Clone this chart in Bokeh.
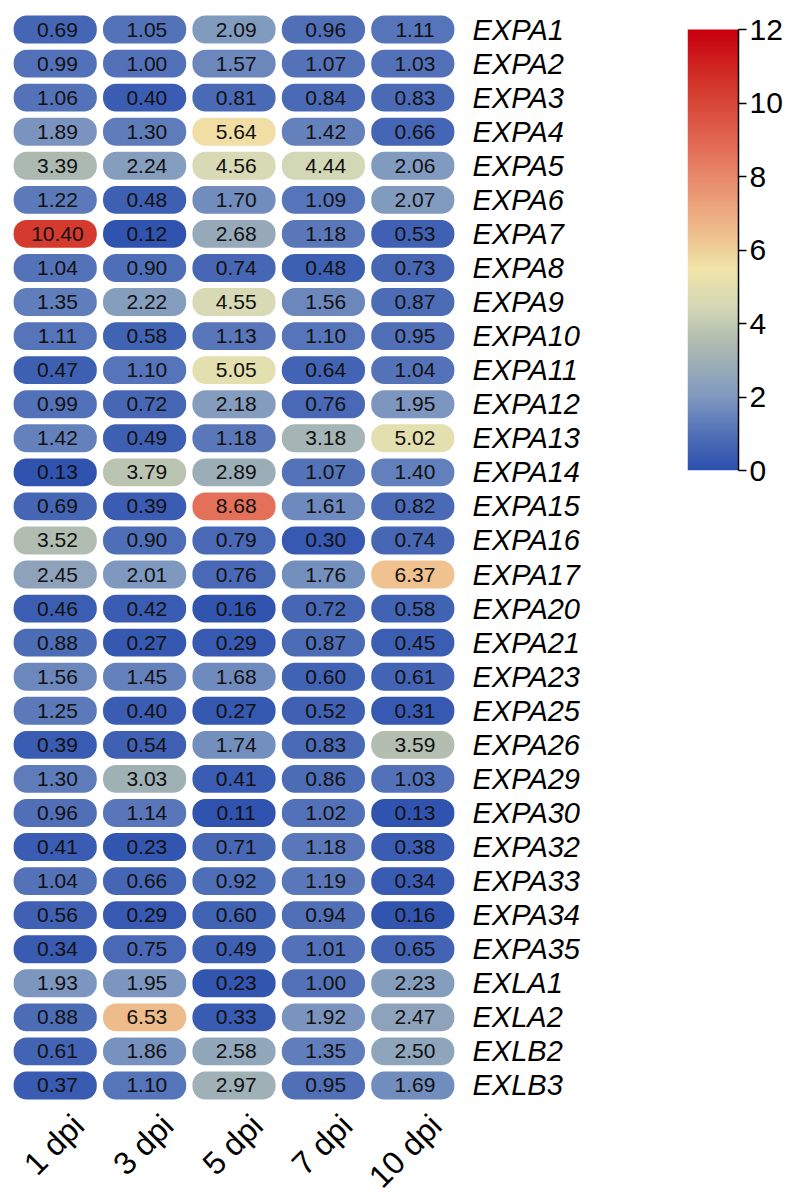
import numpy as np
from bokeh.plotting import figure
from bokeh.layouts import row
from bokeh.models import ColumnDataSource, LinearColorMapper, FixedTicker, Range1d
from bokeh.transform import transform, dodge
from bokeh.core.properties import value
from bokeh.embed import file_html
from bokeh.resources import INLINE

days = ["1 dpi", "3 dpi", "5 dpi", "7 dpi", "10 dpi"]
genes = ["EXPA1", "EXPA2", "EXPA3", "EXPA4", "EXPA5", "EXPA6", "EXPA7", "EXPA8",
         "EXPA9", "EXPA10", "EXPA11", "EXPA12", "EXPA13", "EXPA14", "EXPA15",
         "EXPA16", "EXPA17", "EXPA20", "EXPA21", "EXPA23", "EXPA25", "EXPA26",
         "EXPA29", "EXPA30", "EXPA32", "EXPA33", "EXPA34", "EXPA35", "EXLA1",
         "EXLA2", "EXLB2", "EXLB3"]

dpi1 = [0.69, 0.99, 1.06, 1.89, 3.39, 1.22, 10.40, 1.04, 1.35, 1.11, 0.47, 0.99,
        1.42, 0.13, 0.69, 3.52, 2.45, 0.46, 0.88, 1.56, 1.25, 0.39, 1.30, 0.96,
        0.41, 1.04, 0.56, 0.34, 1.93, 0.88, 0.61, 0.37]
dpi3 = [1.05, 1.00, 0.40, 1.30, 2.24, 0.48, 0.12, 0.90, 2.22, 0.58, 1.10, 0.72,
        0.49, 3.79, 0.39, 0.90, 2.01, 0.42, 0.27, 1.45, 0.40, 0.54, 3.03, 1.14,
        0.23, 0.66, 0.29, 0.75, 1.95, 6.53, 1.86, 1.10]
dpi5 = [2.09, 1.57, 0.81, 5.64, 4.56, 1.70, 2.68, 0.74, 4.55, 1.13, 5.05, 2.18,
        1.18, 2.89, 8.68, 0.79, 0.76, 0.16, 0.29, 1.68, 0.27, 1.74, 0.41, 0.11,
        0.71, 0.92, 0.60, 0.49, 0.23, 0.33, 2.58, 2.97]
dpi7 = [0.96, 1.07, 0.84, 1.42, 4.44, 1.09, 1.18, 0.48, 1.56, 1.10, 0.64, 0.76,
        3.18, 1.07, 1.61, 0.30, 1.76, 0.72, 0.87, 0.60, 0.52, 0.83, 0.86, 1.02,
        1.18, 1.19, 0.94, 1.01, 1.00, 1.92, 1.35, 0.95]
dpi10 = [1.11, 1.03, 0.83, 0.66, 2.06, 2.07, 0.53, 0.73, 0.87, 0.95, 1.04, 1.95,
         5.02, 1.40, 0.82, 0.74, 6.37, 0.58, 0.45, 0.61, 0.31, 3.59, 1.03, 0.13,
         0.38, 0.34, 0.16, 0.65, 2.23, 2.47, 2.50, 1.69]

colorbar_ticks = [0, 2, 4, 6, 8, 10, 12]

# colour map (muted reversed RdYlBu look)
stop_vals = [0, 1, 2, 3.5, 4.5, 5.5, 6.4, 8.7, 10.4, 12]
stop_cols = [(44, 80, 174), (82, 113, 184), (127, 153, 192), (176, 188, 176),
             (213, 217, 181), (241, 228, 168), (239, 192, 142), (228, 112, 90),
             (212, 58, 45), (200, 0, 15)]
grid = np.linspace(0, 12, 256)
arr = np.array(stop_cols, dtype=float)
palette = []
for g in grid:
    r = np.interp(g, stop_vals, arr[:, 0])
    gg = np.interp(g, stop_vals, arr[:, 1])
    b = np.interp(g, stop_vals, arr[:, 2])
    palette.append("#%02x%02x%02x" % (int(round(r)), int(round(gg)), int(round(b))))
mapper = LinearColorMapper(palette=palette, low=0, high=12)

n_rows = len(genes)
cols = [dpi1, dpi3, dpi5, dpi7, dpi10]
xs, ys, vs, labels = [], [], [], []
for i, col in enumerate(cols):
    for k, v in enumerate(col):
        xs.append(i)
        ys.append(n_rows - 1 - k)
        vs.append(v)
        labels.append("%.2f" % v)
src = ColumnDataSource(dict(x=xs, y=ys, v=vs, label=labels))

TOP = 12
GRID_H = 1090                      # pixel height of the 32 rows
LABEL_PX = 92                      # room under the grid for the rotated day labels
row_px = GRID_H / n_rows
extra_rows = LABEL_PX / row_px

p = figure(title=None, x_range=Range1d(-0.5, len(days) - 0.5),
           y_range=Range1d(-0.5 - extra_rows, n_rows - 0.5),
           frame_width=447, frame_height=GRID_H + LABEL_PX,
           min_border_left=10, min_border_top=TOP, min_border_right=150, min_border_bottom=0,
           x_axis_location=None, y_axis_location="right",
           output_backend="svg", toolbar_location=None)
p.quad(left=dodge("x", -0.465), right=dodge("x", 0.465),
       bottom=dodge("y", -0.41), top=dodge("y", 0.41),
       source=src, fill_color=transform("v", mapper), line_color=None, border_radius=13)
p.text(x=dodge("x", 0.025), y="y", text="label", source=src,
       text_align="center", text_baseline="middle", text_font_size="21px",
       text_font=value("Liberation Sans"), text_color="#111111")

# rotated day labels under each column
day_src = ColumnDataSource(dict(x=list(range(len(days))), day=days))
p.text(x=dodge("x", 0.26), y=-0.5 - 0.52, text="day", source=day_src, angle=np.pi / 4,
       text_align="right", text_baseline="middle", text_font_size="32px",
       text_font=value("Liberation Sans"), text_color="black")

p.outline_line_color = None
p.grid.grid_line_color = None
ax = p.yaxis[0]
ax.axis_line_color = None
ax.major_tick_line_color = None
ax.minor_tick_line_color = None
ax.ticker = FixedTicker(ticks=list(range(n_rows)))
ax.major_label_overrides = {n_rows - 1 - k: g for k, g in enumerate(genes)}
ax.major_label_text_font = "Liberation Sans"
ax.major_label_text_color = "black"
ax.major_label_text_font_style = "italic"
ax.major_label_text_font_size = "29px"
ax.major_label_standoff = 9

# colour bar figure: frame top aligned with heatmap frame, bar spans 0..12
BAR_H = 441
BAR_GAP = 17
cb = figure(title=None, x_range=Range1d(0, 1),
            y_range=Range1d(0, 12 * (BAR_H + BAR_GAP) / BAR_H),
            frame_width=51, frame_height=BAR_H + BAR_GAP,
            min_border_left=80, min_border_top=TOP, min_border_right=44, min_border_bottom=30,
            y_axis_location="right", output_backend="svg", toolbar_location=None)
cb.image(image=[grid.reshape(-1, 1)], x=0, y=0, dw=1, dh=12, color_mapper=mapper)
cb.xaxis.visible = False
cb.grid.grid_line_color = None
cb.outline_line_color = None
cb.yaxis.ticker = FixedTicker(ticks=colorbar_ticks)
cb.yaxis.bounds = (0, 12)
cb.yaxis.minor_tick_line_color = None
cb.yaxis.major_tick_out = 8
cb.yaxis.major_tick_in = 0
cb.yaxis.major_tick_line_width = 1.5
cb.yaxis.axis_line_width = 1.5
cb.yaxis.axis_line_color = "black"
cb.yaxis.major_tick_line_color = "black"
cb.yaxis.major_label_text_font = "Liberation Sans"
cb.yaxis.major_label_text_font_size = "30px"
cb.yaxis.major_label_text_color = "black"
cb.yaxis.major_label_standoff = 3

layout = row(p, cb, spacing=0)
open("out.html", "w").write(file_html(layout, INLINE))
